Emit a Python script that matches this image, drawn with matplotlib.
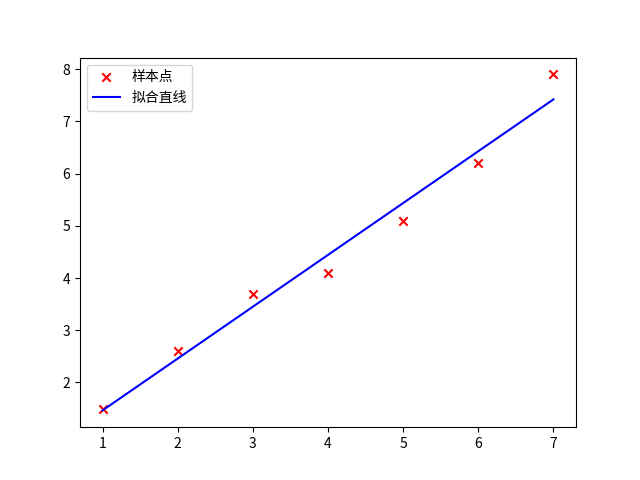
import numpy as np
import matplotlib
matplotlib.use("Agg")
import matplotlib.pyplot as plt

plt.rcParams['font.family'] = ['Noto Sans CJK SC', 'DejaVu Sans']
plt.rcParams['axes.unicode_minus'] = False

x = np.array([1, 2, 3, 4, 5, 6, 7])
y = np.array([1.5, 2.6, 3.7, 4.1, 5.1, 6.2, 7.9])

k, b = np.polyfit(x, y, 1)

fig, ax = plt.subplots(figsize=(6.4, 4.8), dpi=100)
ax.scatter(x, y, marker='x', color='red', label='样本点')
ax.plot(x, k * x + b, color='blue', label='拟合直线')
ax.legend(loc='upper left')
fig.savefig('out.png')
